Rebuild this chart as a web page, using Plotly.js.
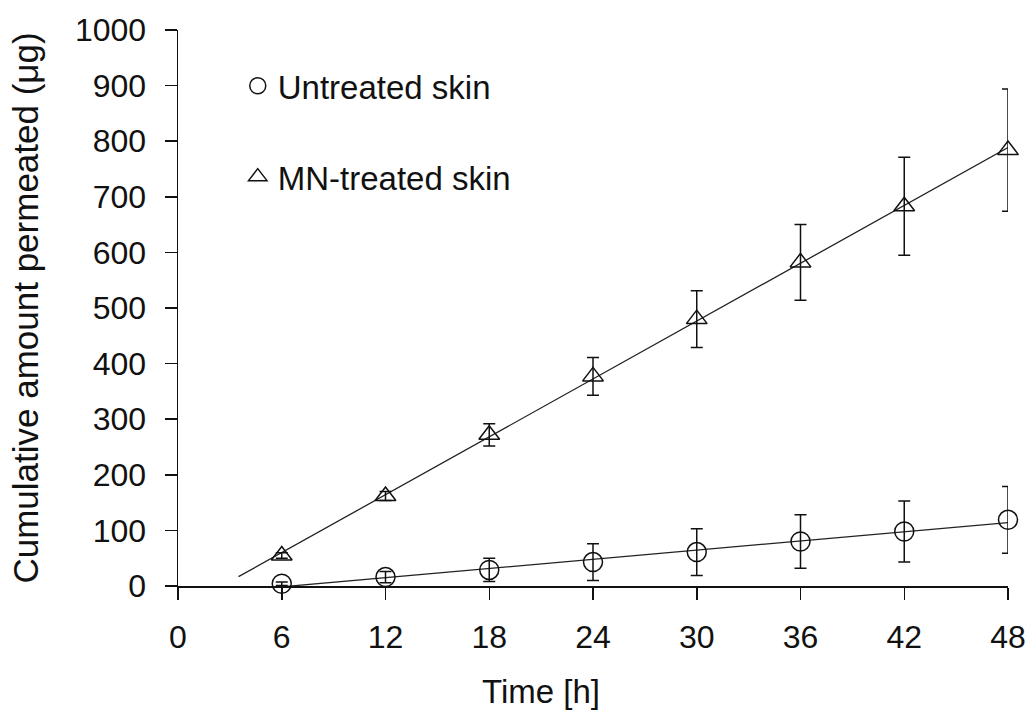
<!DOCTYPE html>
<html>
<head>
<meta charset="utf-8">
<script src="https://cdn.plot.ly/plotly-3.0.1.min.js"></script>
<style>html,body{margin:0;padding:0;background:#fff;}#chart{width:1032px;height:715px;}</style>
</head>
<body>
<div id="chart"></div>
<script>
// Data
var times = [6, 12, 18, 24, 30, 36, 42, 48];
var untreatedMean = [4, 16, 29, 43, 61, 80, 98, 119];
var untreatedSD = [3, 10, 21, 33, 42, 48, 55, 60];
var mnMean = [55, 162, 272, 377, 480, 582, 683, 784];
var mnSD = [5, 8, 20, 34, 51, 68, 88, 110];
var seriesNames = ['Untreated skin', 'MN-treated skin'];
var xTicks = [0, 6, 12, 18, 24, 30, 36, 42, 48];
var yTicks = [0, 100, 200, 300, 400, 500, 600, 700, 800, 900, 1000];
// trend line extent (x, hours)
var untreatedFitRange = [6, 48];
var mnFitRange = [3.5, 48];

function linFit(xs, ys) {
  var n = xs.length, sx = 0, sy = 0;
  for (var i = 0; i < n; i++) { sx += xs[i]; sy += ys[i]; }
  var mx = sx / n, my = sy / n, sxy = 0, sxx = 0;
  for (var j = 0; j < n; j++) { sxy += (xs[j] - mx) * (ys[j] - my); sxx += (xs[j] - mx) * (xs[j] - mx); }
  var b = sxy / sxx;
  return { slope: b, intercept: my - b * mx };
}
function fitLine(range, fit) {
  return { x: range.slice(), y: range.map(function (t) { return fit.intercept + fit.slope * t; }) };
}
var uFit = fitLine(untreatedFitRange, linFit(times, untreatedMean));
var mFit = fitLine(mnFitRange, linFit(times, mnMean));

var FONT = 'Liberation Sans, Arial, sans-serif';
var INK = '#111';

var traces = [
  { x: uFit.x, y: uFit.y, mode: 'lines', line: { color: '#222', width: 1.3 }, showlegend: false, hoverinfo: 'skip' },
  { x: mFit.x, y: mFit.y, mode: 'lines', line: { color: '#222', width: 1.3 }, showlegend: false, hoverinfo: 'skip' },
  {
    x: times, y: untreatedMean, name: seriesNames[0], legendgroup: 'u', mode: 'markers', cliponaxis: false,
    marker: { symbol: 'circle-open', size: 19, color: INK, line: { color: INK, width: 1.5 } },
    error_y: { type: 'data', array: untreatedSD, visible: true, color: INK, thickness: 1.5, width: 6 }
  },
  {
    x: times, y: mnMean, name: seriesNames[1], legendgroup: 'm', mode: 'markers', cliponaxis: false,
    marker: { symbol: 'triangle-up-open', size: 18, color: INK, line: { color: INK, width: 1.5 } },
    error_y: { type: 'data', array: mnSD, visible: true, color: INK, thickness: 1.5, width: 6 }
  }
];

var layout = {
  width: 1032, height: 715,
  margin: { l: 178, r: 24, t: 30, b: 129 },
  paper_bgcolor: '#fff', plot_bgcolor: '#fff',
  font: { family: FONT, color: INK, size: 32 },
  showlegend: true,
  legend: {
    x: 0.072, y: 0.95, xanchor: 'left', yanchor: 'top',
    bgcolor: 'rgba(0,0,0,0)', borderwidth: 0,
    font: { family: FONT, size: 33, color: INK },
    itemwidth: 30, tracegroupgap: 45, traceorder: 'grouped'
  },
  xaxis: {
    range: [0, 48], tickmode: 'array', tickvals: xTicks, ticktext: xTicks.map(String),
    showline: true, linecolor: INK, linewidth: 1.5, ticks: 'outside', ticklen: 12, tickwidth: 1.5, tickcolor: INK,
    showgrid: false, zeroline: false, tickfont: { family: FONT, size: 32, color: INK }, ticklabelstandoff: 10,
    fixedrange: true
  },
  yaxis: {
    range: [0, 1000], tickmode: 'array', tickvals: yTicks, ticktext: yTicks.map(String),
    showline: true, linecolor: INK, linewidth: 1.5, ticks: 'outside', ticklen: 12, tickwidth: 1.5, tickcolor: INK,
    showgrid: false, zeroline: false, tickfont: { family: FONT, size: 32, color: INK }, ticklabelstandoff: 12,
    title: { text: 'Cumulative amount permeated (μg)', font: { family: FONT, size: 35, color: INK }, standoff: 25 },
    fixedrange: true
  },
  annotations: [
    { text: 'Time [h]', xref: 'paper', yref: 'paper', x: 0.437, y: -0.19, xanchor: 'center', yanchor: 'middle',
      showarrow: false, font: { family: FONT, size: 33, color: INK } }
  ]
};

Plotly.newPlot('chart', traces, layout, { displayModeBar: false, staticPlot: true });
</script>
</body>
</html>
